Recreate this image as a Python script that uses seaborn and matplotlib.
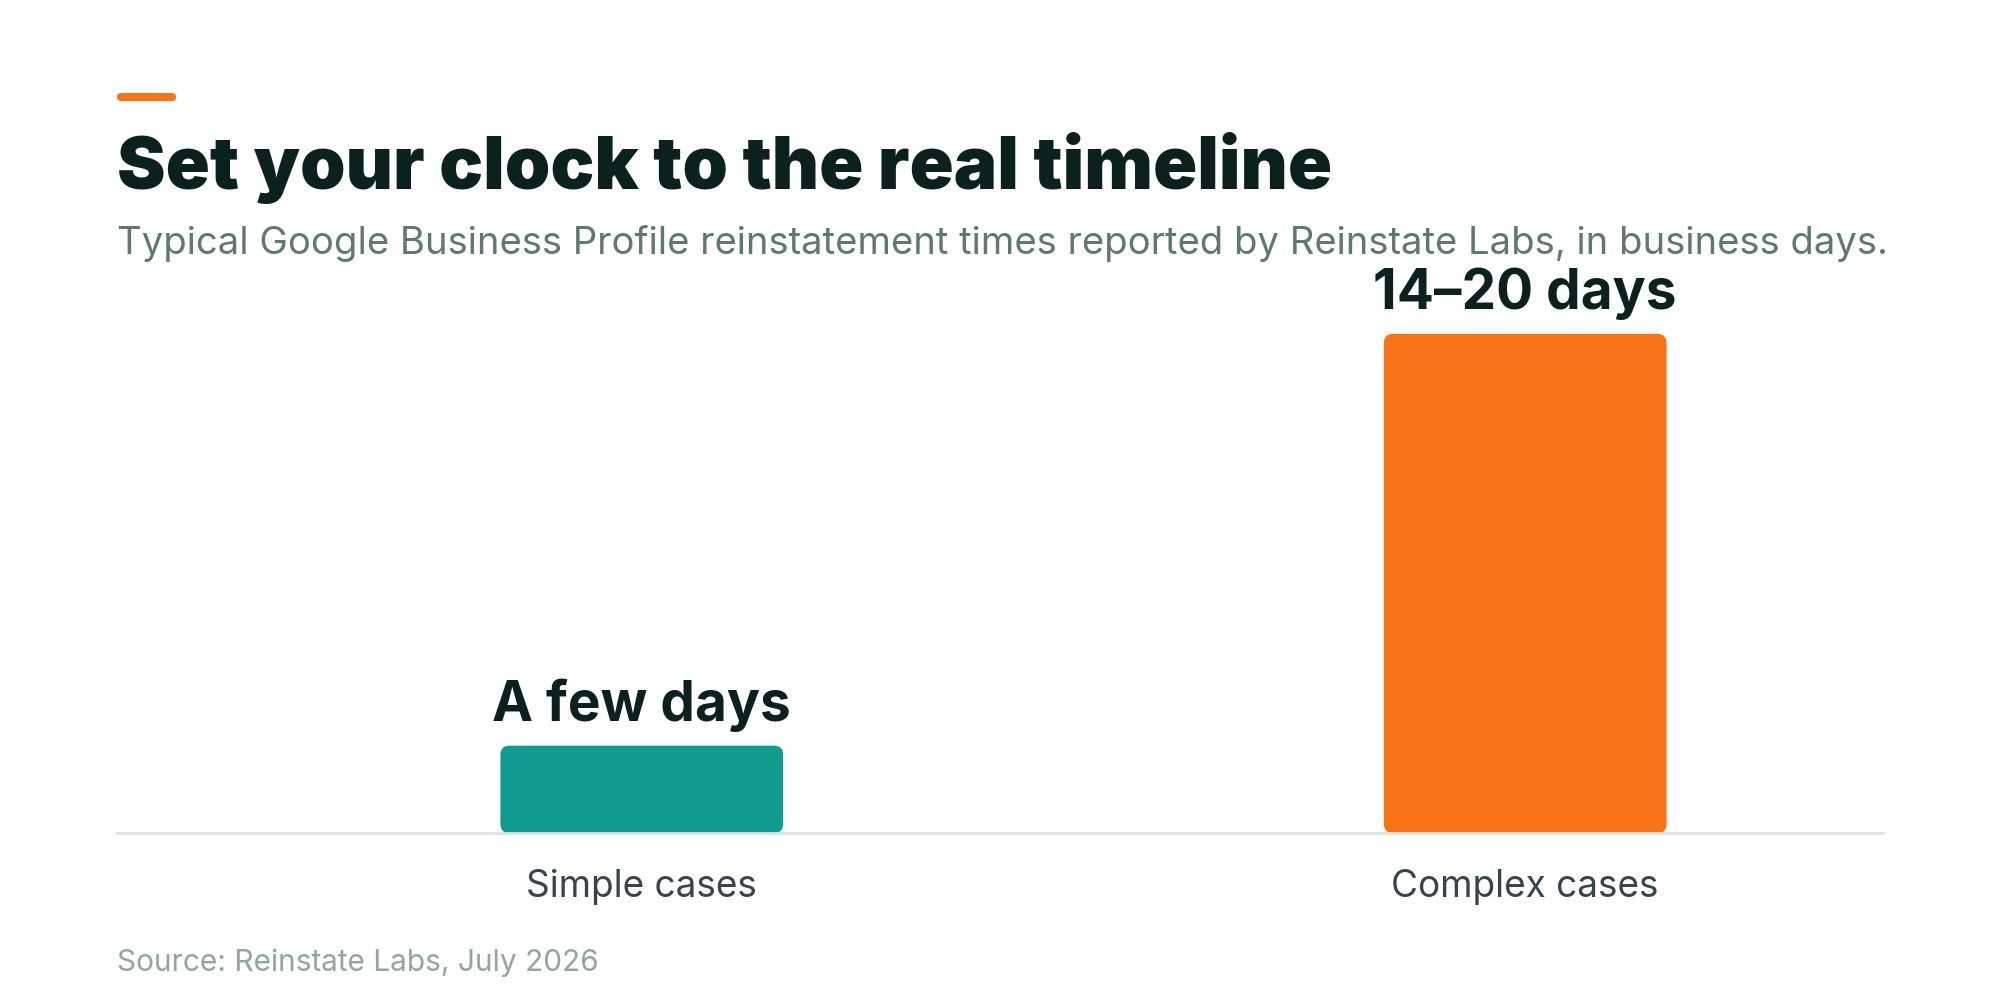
import matplotlib
matplotlib.use("Agg")
import matplotlib.pyplot as plt
import seaborn as sns
import pandas as pd
from matplotlib.patches import FancyBboxPatch

# data
categories = ["Simple cases", "Complex cases"]
days = [3.5, 20]
bar_labels = ["A few days", "14–20 days"]
colors = ["#0f9b8e", "#f97316"]

title = "Set your clock to the real timeline"
subtitle = "Typical Google Business Profile reinstatement times reported by Reinstate Labs, in business days."
source = "Source: Reinstate Labs, July 2026"

sns.set_theme(style="white")
plt.rcParams["font.family"] = ["Inter", "DejaVu Sans"]

df = pd.DataFrame({"case": categories, "days": days})

fig = plt.figure(figsize=(20, 10), dpi=100)
fig.patch.set_facecolor("white")
ax = fig.add_axes([0.0585, 0.167, 0.883, 0.533])

sns.barplot(data=df, x="case", y="days", hue="case", palette=colors,
            width=0.32, legend=False, ax=ax, saturation=1)

ax.set_xlim(-0.594, 1.405)
ax.set_ylim(0, 21.36)
ax.set_xlabel("")
ax.set_ylabel("")
ax.set_yticks([])
for s in ["top", "right", "left"]:
    ax.spines[s].set_visible(False)
ax.spines["bottom"].set_color("#dbe4e1")
ax.spines["bottom"].set_linewidth(2)
ax.tick_params(axis="x", length=0, pad=26, labelsize=26.6, labelcolor="#36454d")

# round the bar corners
fig.canvas.draw()
inv = ax.transData.inverted()
p0 = inv.transform((0, 0))
p1 = inv.transform((1, 1))
xpp, ypp = p1[0] - p0[0], p1[1] - p0[1]
r_px = 9
for patch, lab in zip(list(ax.patches), bar_labels):
    x, y = patch.get_x(), patch.get_y()
    w, h = patch.get_width(), patch.get_height()
    fc = patch.get_facecolor()
    patch.remove()
    ax.add_patch(FancyBboxPatch((x, y), w, h,
                                boxstyle=f"round,pad=0,rounding_size={r_px * xpp}",
                                mutation_aspect=ypp / xpp, fc=fc, ec="none", zorder=2))
    ax.annotate(lab, (x + w / 2, y + h), xytext=(0, 18), textcoords="offset points",
                ha="center", va="baseline", fontsize=39.6, fontweight="bold",
                color="#0b211e")

# header and footer
fig.patches.append(FancyBboxPatch((117 / 2000, 1 - 101 / 1000), 59 / 2000, 8 / 1000,
                                  boxstyle="round,pad=0,rounding_size=0.002",
                                  mutation_aspect=2, transform=fig.transFigure,
                                  fc="#f97316", ec="none"))
fig.text(0.0585, 0.811, title, fontsize=52.5, fontweight="black", color="#0b211e",
         ha="left", va="baseline")
fig.text(0.0585, 0.746, subtitle, fontsize=27.5, color="#5f7873",
         ha="left", va="baseline")
fig.text(0.0585, 0.029, source, fontsize=21.5, color="#94a5a1",
         ha="left", va="baseline")

fig.savefig("out.png", dpi=100, facecolor="white")
